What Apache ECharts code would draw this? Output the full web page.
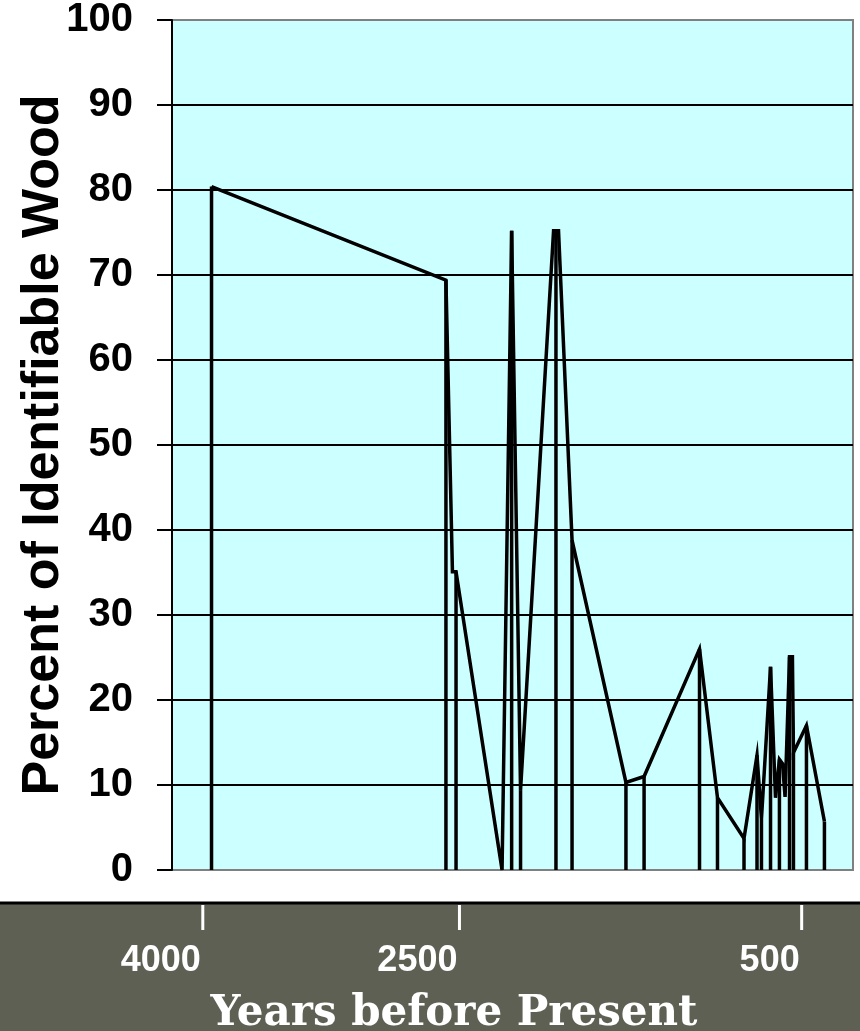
<!DOCTYPE html>
<html>
<head>
<meta charset="utf-8">
<script src="https://cdn.jsdelivr.net/npm/echarts@6/dist/echarts.min.js"></script>
<style>
html,body{margin:0;padding:0;background:#fff;}
#chart{width:860px;height:1031px;}
</style>
</head>
<body>
<div id="chart"></div>
<script>
// Years before present of each sample
const years = [3949, 2579, 2541, 2520, 2251, 2195, 2143, 1950, 1936, 1921, 1842, 1527, 1421, 1097, 992, 837, 761, 735, 682, 653, 630, 612, 597, 571, 554, 548, 472, 367];
// Percent of identifiable wood
const percents = [80.4, 69.4, 35.1, 35.1, 0, 75.2, 9.4, 75.2, 75.2, 75.2, 38.8, 10.3, 11.0, 26.0, 8.5, 3.7, 13.5, 6.0, 23.9, 8.5, 13.0, 12.5, 8.6, 25.1, 25.1, 13.8, 17.0, 5.7];
// 1 = a drop line is drawn from the point down to zero
const dropFlags = [1, 1, 0, 1, 0, 1, 1, 0, 1, 0, 1, 1, 1, 1, 1, 1, 1, 1, 1, 0, 1, 0, 0, 1, 0, 1, 1, 1];
// tick labels
const xTickYears = [4000, 2500, 500];
const xName = 'Years before Present';
const yName = 'Percent of Identifiable Wood';

const X_MIN = 200, X_MAX = 4180;

const lineData = years.map((y, i) => [y, percents[i]]);
const dropData = lineData.filter((d, i) => dropFlags[i] === 1);
const tickData = xTickYears.map(v => [v, 0]);

const chart = echarts.init(document.getElementById('chart'));
chart.setOption({
  backgroundColor: '#ffffff',
  animation: false,
  graphic: [
    {
      type: 'rect', z: -10,
      shape: { x: 0, y: 903, width: 860, height: 128 },
      style: { fill: '#5f6054' }
    },
    {
      type: 'line', z: -10,
      shape: { x1: 0, y1: 903, x2: 860, y2: 903 },
      style: { stroke: '#000', lineWidth: 3 }
    }
  ],
  grid: {
    left: 172, right: 7, top: 20, bottom: 161,
    outerBoundsMode: 'none', containLabel: false,
    show: true, backgroundColor: '#ccffff', borderColor: '#808080', borderWidth: 2
  },
  xAxis: {
    type: 'value', inverse: true, min: X_MIN, max: X_MAX,
    offset: 35, zlevel: 1,
    axisLine: { show: false },
    axisTick: { show: false },
    splitLine: { show: false },
    axisLabel: {
      customValues: xTickYears, margin: 38, align: 'right',
      formatter: function (v) { return String(v); },
      color: '#ffffff', fontFamily: 'Liberation Sans, Arial, sans-serif', fontWeight: 'bold', fontSize: 36,
      padding: [0, 2, 0, 0]
    },
    name: xName, nameLocation: 'middle', nameGap: 88, nameMoveOverlap: false,
    nameTextStyle: {
      color: '#ffffff', fontFamily: 'DejaVu Serif, serif', fontWeight: 'bold', fontSize: 42,
      padding: [0, 117, 0, 0]
    }
  },
  yAxis: {
    type: 'value', min: 0, max: 100, interval: 10,
    axisLine: { show: true, lineStyle: { color: '#000', width: 2 } },
    axisTick: { show: true, length: 15, lineStyle: { color: '#000', width: 2 } },
    axisLabel: {
      margin: 39, color: '#000', fontFamily: 'Liberation Sans, Arial, sans-serif', fontWeight: 'bold', fontSize: 40
    },
    splitLine: {
      show: true,
      lineStyle: { width: 2, color: ['#808080', '#000', '#000', '#000', '#000', '#000', '#000', '#000', '#000', '#000', '#808080'] }
    },
    name: yName, nameLocation: 'middle', nameGap: 102, nameMoveOverlap: false,
    nameTextStyle: { color: '#000', fontFamily: 'Liberation Sans, Arial, sans-serif', fontWeight: 'bold', fontSize: 52 }
  },
  series: [
    {
      type: 'custom',
      data: dropData,
      renderItem: function (params, api) {
        const top = api.coord([api.value(0), api.value(1)]);
        const bot = api.coord([api.value(0), 0]);
        return {
          type: 'line',
          shape: { x1: top[0], y1: top[1], x2: bot[0], y2: bot[1] },
          style: { stroke: '#000', lineWidth: 3.5 }
        };
      },
      z: 3
    },
    {
      type: 'line',
      data: lineData,
      showSymbol: false,
      lineStyle: { color: '#000', width: 3.5, join: 'miter' },
      z: 4
    },
    {
      // white tick marks in the band below the plot, at the labelled years
      type: 'custom',
      zlevel: 1,
      silent: true,
      clip: false,
      data: tickData,
      renderItem: function (params, api) {
        const base = api.coord([api.value(0), 0]);
        return {
          type: 'line',
          shape: { x1: base[0], y1: base[1] + 35, x2: base[0], y2: base[1] + 60 },
          style: { stroke: '#ffffff', lineWidth: 3 }
        };
      }
    }
  ]
});
</script>
</body>
</html>
